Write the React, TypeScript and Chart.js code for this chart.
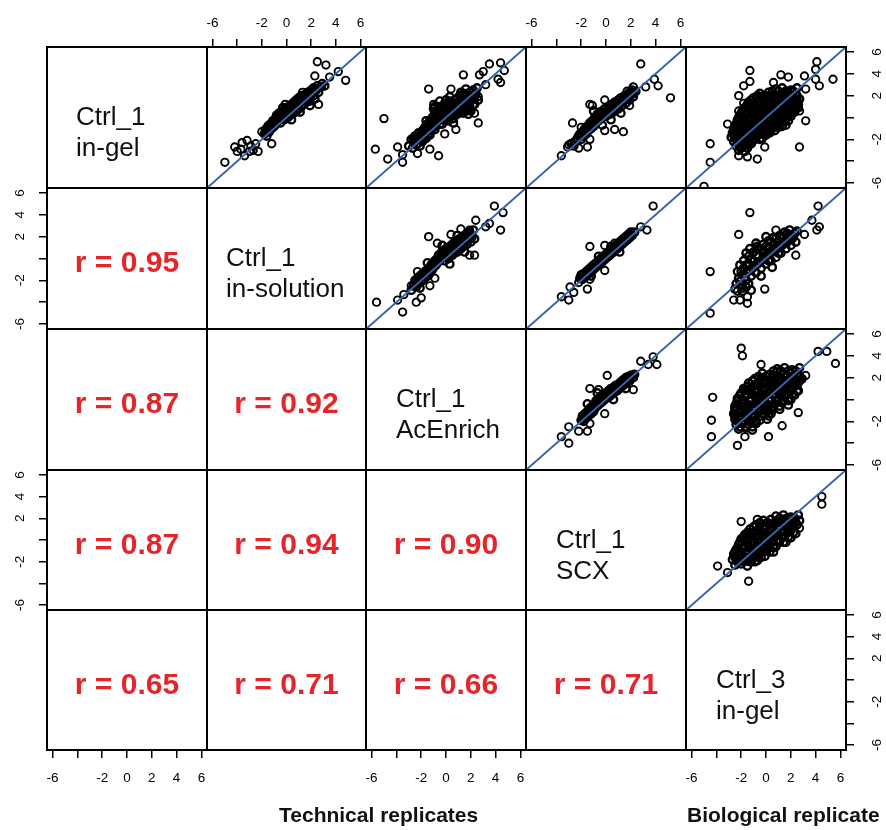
import React, { useEffect, useRef } from "react";
import { Chart, registerables } from "chart.js";
Chart.register(...registerables);

type Pt = [number, number];

// ---------- labels & values ----------
const varLine1 = ["Ctrl_1", "Ctrl_1", "Ctrl_1", "Ctrl_1", "Ctrl_3"];
const varLine2 = ["in-gel", "in-solution", "AcEnrich", "SCX", "in-gel"];
const rRow2 = ["0.95"];
const rRow3 = ["0.87", "0.92"];
const rRow4 = ["0.87", "0.94", "0.90"];
const rRow5 = ["0.65", "0.71", "0.66", "0.71"];
const tickValues = [-6, -4, -2, 0, 2, 4, 6];
const xTickLabels = ["-6", "", "-2", "0", "2", "4", "6"];
const yTickLabels = ["-6", "", "-2", "", "2", "4", "6"];
const axisLimit = 6.45;
const bottomTitles = ["Technical replicates", "Biological replicate"];

// ---------- scatter data ----------
const s12Out: Pt[] = [[2.5,5.1],[3.2,4.8],[4.2,4.2],[4.8,3.4],[2.3,3.8],[3.5,3.7],[-0.1,1.2],[2.6,1.2],[1.3,2.3],[-2.0,-1.3],[-1.2,-2.4],[-5.0,-4.1],[-3.6,-2.3],[-3.4,-3.5],[-4.0,-3.1],[-4.2,-2.7],[-3.2,-2.1],[-2.7,-3.0],[-2.9,-2.6],[-3.7,-2.9],[-2.5,-2.4],[-2.3,-3.1],[-3.0,-3.1]];
const s12Core: Pt[] = [[-1.8,-1.5],[-1.7,-1.1],[-1.6,-1.7],[-1.5,-0.8],[-1.4,-1.3],[-1.3,-0.6],[-1.2,-1.0],[-1.1,-0.3],[-1.0,-0.8],[-0.9,-0.1],[-0.9,-0.5],[-0.8,0.2],[-0.7,-0.3],[-0.6,0.4],[-0.5,0.0],[-0.5,-0.5],[-0.4,0.5],[-0.3,0.1],[-0.2,0.7],[-0.2,-0.2],[-0.1,0.3],[0.0,0.9],[0.1,0.5],[0.1,0.0],[0.2,1.0],[0.3,0.6],[0.3,0.2],[0.4,1.2],[0.5,0.8],[0.6,0.4],[0.6,1.4],[0.7,1.0],[0.8,0.6],[0.8,1.6],[0.9,1.2],[1.0,0.8],[1.0,1.8],[1.1,1.4],[1.2,1.0],[1.2,2.0],[1.3,1.6],[1.4,1.2],[1.5,2.1],[1.5,1.7],[1.6,1.4],[1.7,2.3],[1.8,1.9],[1.9,1.5],[2.0,2.5],[2.0,2.1],[2.2,2.7],[2.2,2.0],[2.4,2.5],[2.5,2.9],[2.6,2.3],[2.8,2.8],[2.9,3.1],[3.1,2.9],[-0.3,0.9],[0.4,-0.2],[1.1,0.5],[1.9,1.1],[2.3,1.7],
  [-1.7,-1.4],[-1.5,-1.0],[-1.3,-0.9],[-1.1,-0.6],[-0.9,-0.3],[-0.7,0.0],[-0.5,0.3],[-0.3,0.4],[-0.1,0.7],[0.1,0.8],[0.3,1.0],[0.5,1.2],[0.7,1.3],[0.9,1.5],[1.1,1.7],[1.3,1.9],[1.5,1.9],[1.7,2.1],[1.9,2.3],[2.1,2.4],[2.3,2.6],[0.2,0.4],[0.6,0.9],[1.0,1.2],[1.4,1.5],[1.8,2.0],[-0.4,-0.1],[-0.8,-0.5],[-1.2,-0.7]];

const s13Out: Pt[] = [[1.4,3.9],[3.5,4.9],[4.4,5.0],[4.7,4.3],[2.7,3.9],[3.0,4.2],[4.2,3.5],[4.4,3.2],[3.2,3.0],[2.6,1.9],[-1.4,2.6],[-5.0,-0.1],[-5.7,-2.9],[-4.7,-3.8],[-3.9,-2.7],[-3.5,-4.1],[-3.5,-3.4],[-2.3,-3.3],[-1.3,-2.9],[-0.6,-3.5],[-1.0,1.2],[0.4,2.6],[2.6,-0.5],[2.3,0.4],[0.8,-1.1],[-0.1,-1.5]];
const s13Core: Pt[] = [[-3.0,-2.6],[-2.8,-2.0],[-2.7,-2.8],[-2.6,-2.3],[-2.5,-1.7],[-2.4,-2.5],[-2.3,-2.0],[-2.2,-1.4],[-2.1,-2.6],[-2.0,-1.8],[-1.9,-1.2],[-1.9,-2.2],[-1.8,-1.5],[-1.7,-0.9],[-1.6,-1.9],[-1.6,-1.2],[-1.5,-0.6],[-1.4,-1.5],[-1.4,-0.9],[-1.3,-0.3],[-1.2,-1.2],[-1.2,-0.6],[-1.1,0.0],[-1.0,-0.9],[-1.0,-0.3],[-0.9,0.4],[-0.8,-0.6],[-0.8,0.0],[-0.7,0.7],[-0.6,-0.3],[-0.6,0.3],[-0.5,1.0],[-0.4,0.0],[-0.4,0.6],[-0.3,-0.6],[-0.2,0.3],[-0.2,0.9],[-0.1,1.3],[0.0,0.0],[0.0,0.6],[0.1,1.1],[0.2,-0.3],[0.2,0.4],[0.3,0.9],[0.4,1.5],[0.4,0.2],[0.5,0.7],[0.6,1.2],[0.6,-0.1],[0.7,0.5],[0.8,1.0],[0.8,1.7],[0.9,0.3],[1.0,0.8],[1.0,1.4],[1.1,2.0],[1.2,0.6],[1.2,1.1],[1.3,1.7],[1.4,0.4],[1.4,2.2],[1.5,0.9],[1.5,1.4],[1.6,2.0],[1.7,1.2],[1.7,0.7],[1.8,1.7],[1.9,2.3],[1.9,1.0],[2.0,1.5],[2.1,2.0],[2.2,2.5],[2.2,1.2],[2.3,1.8],[2.4,2.2],[2.5,2.7],[2.6,1.6],[2.0,0.6],[1.6,2.6],[0.3,1.9],[-0.5,1.5],[-1.0,0.8],
  [-2.6,-1.9],[-2.3,-2.4],[-2.0,-1.5],[-1.8,-2.0],[-1.5,-1.1],[-1.3,-1.6],[-1.1,-0.6],[-0.9,-1.1],[-0.7,-0.2],[-0.5,-0.6],[-0.3,0.3],[-0.1,-0.2],[0.1,0.7],[0.3,0.1],[0.5,1.1],[0.7,0.3],[0.9,1.3],[1.1,0.5],[1.3,1.3],[1.5,0.6],[1.7,1.5],[1.9,0.8],[2.1,1.7],[2.3,1.2],[0.0,1.6],[-0.9,1.0],[1.2,2.3],[-1.6,-0.3],[0.6,-0.5],[1.8,0.3]];

const s14Out: Pt[] = [[2.8,4.9],[3.9,3.5],[4.2,2.9],[5.2,1.8],[3.2,2.8],[2.2,2.8],[1.7,2.4],[1.9,1.1],[-1.3,1.2],[-1.1,1.1],[-0.1,1.6],[-2.7,-0.5],[-2.0,-0.9],[-0.1,-1.2],[0.7,-1.1],[1.4,-1.3],[-1.3,-2.0],[-2.2,-2.8],[-1.5,-2.7],[-3.0,-2.5],[-3.1,-2.7],[-3.6,-3.5]];
const s14Core: Pt[] = [[-2.3,-1.9],[-2.1,-1.5],[-2.0,-2.0],[-1.9,-1.3],[-1.8,-1.7],[-1.7,-1.0],[-1.6,-1.5],[-1.5,-0.8],[-1.4,-1.2],[-1.3,-0.5],[-1.2,-1.0],[-1.1,-0.3],[-1.0,-0.8],[-0.9,0.0],[-0.9,-0.5],[-0.8,-0.2],[-0.7,0.3],[-0.6,-0.3],[-0.5,0.1],[-0.5,0.5],[-0.4,-0.1],[-0.3,0.3],[-0.2,0.7],[-0.1,0.1],[0.0,0.5],[0.0,0.9],[0.1,0.2],[0.2,0.7],[0.3,1.1],[0.3,0.3],[0.4,0.8],[0.5,1.2],[0.6,0.5],[0.7,1.0],[0.7,1.4],[0.8,0.7],[0.9,1.2],[1.0,1.6],[1.0,0.8],[1.1,1.3],[1.2,1.8],[1.3,1.1],[1.4,1.5],[1.5,2.0],[1.6,1.3],[1.7,1.8],[1.8,2.2],[1.9,1.6],[2.0,2.1],[2.1,2.5],[2.2,1.9],[2.4,2.4],[0.4,-0.2],[-1.0,0.6],[-0.3,-0.7],[1.2,0.4],[-2.8,-2.4],[-2.6,-2.6],[-2.5,-2.2],
  [-2.2,-1.7],[-2.0,-1.7],[-1.8,-1.5],[-1.6,-1.2],[-1.4,-1.0],[-1.2,-0.7],[-1.0,-0.5],[-0.8,-0.3],[-0.6,0.0],[-0.4,0.2],[-0.2,0.4],[0.0,0.2],[0.2,0.4],[0.4,0.5],[0.6,0.8],[0.8,1.0],[1.0,1.2],[1.2,1.4],[1.4,1.7],[1.6,1.8],[1.8,1.9],[2.0,2.3],[2.2,2.2]];

const s15Out: Pt[] = [[4.1,5.1],[4.0,4.4],[5.4,3.5],[4.3,2.9],[4.0,3.5],[3.1,3.8],[1.2,3.9],[1.8,3.7],[-1.3,4.3],[-1.8,2.9],[-1.3,3.3],[0.6,3.2],[-2.2,2.0],[-1.8,1.3],[-2.2,0.6],[-3.1,-0.6],[-4.5,-2.4],[-4.5,-4.1],[-5.0,-6.3],[-2.2,-3.5],[-1.5,-3.6],[-0.7,-3.8],[-0.1,-2.7],[2.7,-2.7],[3.2,-0.3],[2.7,0.6],[3.2,2.6],[-0.8,1.9],[0.1,-1.3]];
const s15Core: Pt[] = [[0.8,2.6],[1.3,2.7],[2.0,2.5],[2.5,2.7],[-0.5,2.2],[0.2,2.3],[0.7,2.1],[1.3,2.2],[1.8,2.3],[2.4,2.1],[-1.0,1.8],[-0.4,1.9],[0.2,1.7],[0.7,1.8],[1.2,1.7],[1.7,1.9],[2.2,1.8],[2.7,1.7],[-1.4,1.4],[-0.8,1.3],[-0.2,1.5],[0.3,1.4],[0.8,1.3],[1.3,1.5],[1.8,1.4],[2.4,1.3],[-1.6,1.0],[-1.1,1.1],[-0.5,0.9],[0.0,1.0],[0.5,1.1],[1.0,0.9],[1.5,1.0],[2.0,1.1],[2.6,0.9],[-1.9,0.6],[-1.3,0.7],[-0.8,0.5],[-0.3,0.6],[0.2,0.7],[0.7,0.5],[1.2,0.6],[1.7,0.7],[2.3,0.5],[-2.1,0.2],[-1.5,0.3],[-1.0,0.1],[-0.5,0.2],[0.0,0.3],[0.5,0.1],[1.0,0.2],[1.5,0.3],[2.0,0.1],[-2.3,-0.2],[-1.7,-0.1],[-1.2,-0.3],[-0.7,-0.2],[-0.2,-0.1],[0.3,-0.3],[0.8,-0.2],[1.3,-0.1],[1.8,-0.3],[-2.4,-0.6],[-1.9,-0.5],[-1.4,-0.7],[-0.9,-0.6],[-0.4,-0.5],[0.1,-0.7],[0.6,-0.6],[1.1,-0.5],[1.6,-0.7],[-2.6,-1.0],[-2.0,-0.9],[-1.5,-1.1],[-1.0,-1.0],[-0.5,-0.9],[0.0,-1.1],[0.5,-1.0],[1.0,-0.9],[-2.7,-1.4],[-2.2,-1.3],[-1.7,-1.5],[-1.2,-1.4],[-0.7,-1.3],[-0.2,-1.5],[0.3,-1.4],[-2.8,-1.8],[-2.3,-1.7],[-1.8,-1.9],[-1.3,-1.8],[-0.8,-1.7],[-0.3,-1.9],[-2.6,-2.2],[-2.1,-2.3],[-1.6,-2.1],[-1.1,-2.2],[-2.4,-2.6],[-1.9,-2.7],[-1.4,-2.5],[-2.2,-3.0],[-1.7,-3.1],
  [0.5,2.4],[1.0,2.4],[1.6,2.4],[2.2,2.4],[-0.7,2.0],[-0.1,2.0],[0.4,2.0],[1.0,2.0],[1.5,2.0],[2.0,2.0],[2.5,2.0],[-1.2,1.6],[-0.6,1.6],[0.0,1.6],[0.5,1.6],[1.0,1.6],[1.5,1.6],[2.0,1.6],[2.5,1.6],[-1.5,1.2],[-1.0,1.2],[-0.5,1.2],[0.1,1.2],[0.6,1.2],[1.1,1.2],[1.6,1.2],[2.1,1.2],[2.6,1.2],[-1.8,0.8],[-1.3,0.8],[-0.8,0.8],[-0.2,0.8],[0.3,0.8],[0.8,0.8],[1.3,0.8],[1.8,0.8],[2.4,0.8],[-2.0,0.4],[-1.6,0.4],[-1.0,0.4],[-0.5,0.4],[0.0,0.4],[0.5,0.4],[1.0,0.4],[1.5,0.4],[2.1,0.4],[-2.2,0.0],[-1.8,0.0],[-1.3,0.0],[-0.8,0.0],[-0.3,0.0],[0.2,0.0],[0.7,0.0],[1.2,0.0],[1.7,0.0],[-2.3,-0.4],[-1.9,-0.4],[-1.4,-0.4],[-0.9,-0.4],[-0.4,-0.4],[0.1,-0.4],[0.6,-0.4],[1.1,-0.4],[1.5,-0.4],[-2.5,-0.8],[-2.1,-0.8],[-1.6,-0.8],[-1.1,-0.8],[-0.6,-0.8],[-0.1,-0.8],[0.4,-0.8],[0.9,-0.8],[1.3,-0.8],[-2.6,-1.2],[-2.2,-1.2],[-1.7,-1.2],[-1.2,-1.2],[-0.7,-1.2],[-0.2,-1.2],[0.3,-1.2],[0.7,-1.2],[-2.6,-1.6],[-2.1,-1.6],[-1.6,-1.6],[-1.1,-1.6],[-0.6,-1.6],[0.0,-1.6],[-2.4,-2.0],[-1.9,-2.0],[-1.4,-2.0],[-0.9,-2.0],[-0.5,-2.0],[-2.2,-2.4],[-1.7,-2.4],[-1.2,-2.4],[-2.0,-2.8],[-1.5,-2.8]];

const s23Out: Pt[] = [[3.9,4.8],[4.6,4.2],[2.4,3.5],[3.5,3.2],[3.2,2.9],[4.4,2.6],[1.2,2.7],[1.9,2.6],[-1.4,2.0],[-0.7,1.4],[0.4,2.2],[1.9,0.3],[2.3,0.3],[-2.3,-1.2],[-1.3,-2.5],[-2.0,-3.6],[-2.4,-4.0],[-3.5,-4.9],[-3.9,-3.8],[-5.6,-4.0],[-3.4,-3.3],[-2.8,-2.5],[-0.9,-1.8]];
const s23Core: Pt[] = [[-2.6,-2.5],[-2.5,-2.0],[-2.4,-2.6],[-2.3,-1.8],[-2.2,-2.3],[-2.1,-1.6],[-2.0,-2.1],[-1.9,-1.4],[-1.8,-1.9],[-1.7,-1.2],[-1.6,-1.7],[-1.5,-1.0],[-1.4,-1.5],[-1.3,-0.8],[-1.3,-1.2],[-1.2,-0.6],[-1.1,-1.0],[-1.0,-0.4],[-1.0,-0.8],[-0.9,-0.2],[-0.8,-0.6],[-0.7,0.0],[-0.7,-0.4],[-0.6,0.3],[-0.5,-0.2],[-0.4,0.4],[-0.4,0.0],[-0.3,0.7],[-0.2,0.2],[-0.1,0.6],[-0.1,-0.2],[0.0,0.9],[0.1,0.4],[0.2,1.0],[0.2,0.0],[0.3,0.6],[0.4,1.2],[0.5,0.3],[0.5,0.8],[0.6,1.4],[0.7,0.5],[0.8,1.0],[0.9,1.6],[0.9,0.6],[1.0,1.2],[1.1,1.8],[1.2,0.9],[1.2,1.4],[1.3,2.0],[1.4,1.1],[1.5,1.6],[1.6,2.2],[1.7,1.3],[1.8,1.8],[1.9,2.4],[2.0,1.5],[2.1,2.0],[2.2,2.6],[2.3,1.8],[-1.5,-0.4],[-0.3,1.2],[0.9,2.1],[0.3,-0.5],[1.5,0.6],[-2.1,-2.7],[-2.8,-2.9],
  [-2.4,-2.2],[-2.2,-1.9],[-2.0,-1.7],[-1.8,-1.5],[-1.6,-1.3],[-1.4,-1.1],[-1.2,-0.9],[-1.0,-0.6],[-0.8,-0.3],[-0.6,-0.1],[-0.4,0.2],[-0.2,0.5],[0.0,0.7],[0.2,0.8],[0.4,0.9],[0.6,1.1],[0.8,1.3],[1.0,1.5],[1.2,1.7],[1.4,1.8],[1.6,1.9],[1.8,2.1],[2.0,2.2],[-0.1,0.2],[0.7,0.8],[1.3,1.5]];

const s24Out: Pt[] = [[3.8,4.8],[2.8,2.9],[3.3,2.6],[-1.3,1.1],[-0.1,1.2],[0.7,1.4],[-0.1,-1.1],[-1.3,-1.9],[-1.5,-2.8],[-2.9,-2.6],[-2.6,-3.1],[-3.6,-3.5],[-3.0,-3.8],[-2.2,-2.2]];
const s24Core: Pt[] = [[-2.1,-1.8],[-2.0,-1.5],[-1.9,-1.9],[-1.8,-1.4],[-1.7,-1.7],[-1.6,-1.2],[-1.5,-1.5],[-1.4,-1.0],[-1.3,-1.3],[-1.2,-0.8],[-1.1,-1.1],[-1.0,-0.6],[-0.9,-0.9],[-0.8,-0.4],[-0.7,-0.7],[-0.6,-0.2],[-0.5,-0.5],[-0.4,0.0],[-0.3,-0.3],[-0.2,0.2],[-0.1,-0.1],[0.0,0.4],[0.1,0.1],[0.2,0.6],[0.3,0.3],[0.4,0.8],[0.5,0.5],[0.6,1.0],[0.7,0.7],[0.8,1.2],[0.9,0.9],[1.0,1.4],[1.1,1.1],[1.2,1.6],[1.3,1.3],[1.4,1.8],[1.5,1.5],[1.6,2.0],[1.7,1.7],[1.8,2.2],[1.9,1.9],[2.0,2.4],[2.1,2.1],[2.3,2.4],[-0.6,0.2],[0.4,1.1],[1.1,0.6],[-1.2,-1.6]];

const s25Out: Pt[] = [[4.2,4.8],[3.7,3.5],[4.3,2.9],[4.1,2.6],[3.1,2.2],[2.4,0.3],[-1.3,4.2],[-2.2,2.2],[0.8,2.6],[-4.5,-1.2],[-4.5,-5.0],[-0.1,-2.8],[-1.5,-3.5],[-1.5,-4.1],[-2.1,-3.8],[-2.6,-3.8],[-2.3,-3.0]];
const s25Core: Pt[] = [[-2.4,-2.3],[-2.2,-1.8],[-2.3,-1.2],[-2.1,-0.6],[-2.0,-2.4],[-1.9,-1.5],[-1.8,-0.9],[-1.8,-0.2],[-1.6,-2.0],[-1.5,-1.2],[-1.4,-0.5],[-1.4,0.2],[-1.2,-1.6],[-1.1,-0.9],[-1.0,-0.2],[-1.0,0.6],[-0.8,-1.3],[-0.7,-0.5],[-0.6,0.2],[-0.6,0.9],[-0.8,1.4],[-0.4,-0.9],[-0.3,-0.1],[-0.2,0.6],[-0.2,1.3],[0.0,-0.5],[0.1,0.3],[0.2,1.0],[0.2,1.6],[0.4,-0.2],[0.5,0.6],[0.6,1.3],[0.6,1.9],[0.8,0.1],[0.9,0.9],[1.0,1.6],[1.1,2.1],[1.2,0.5],[1.3,1.2],[1.4,1.9],[1.5,2.4],[1.6,0.9],[1.7,1.5],[1.8,2.1],[1.9,2.6],[2.0,1.2],[2.1,1.8],[2.3,2.3],[2.5,2.5],[2.4,1.5],[-1.6,-2.6],[-1.2,-2.9],[-1.9,-3.0],[-2.5,-2.8],[-0.4,-1.6],[0.5,-0.8],[-1.3,0.9],[0.0,2.0],
  [-2.1,-2.1],[-2.0,-1.2],[-1.7,-1.7],[-1.6,-0.6],[-1.3,-1.1],[-1.2,-0.1],[-0.9,-0.7],[-0.8,0.3],[-0.5,-0.3],[-0.4,0.8],[-0.1,0.1],[0.0,1.1],[0.3,0.6],[0.4,1.5],[0.7,0.8],[0.8,1.8],[1.1,1.2],[1.2,2.0],[1.5,1.6],[1.7,2.3],[1.9,1.7],[2.2,2.0],[-1.9,-2.7],[-1.4,-2.3],[0.2,-0.2],[1.0,0.5],[-0.7,1.1],[-1.6,0.5]];

const s34Out: Pt[] = [[2.8,3.5],[3.8,3.9],[3.4,3.2],[4.1,3.2],[0.1,2.2],[-1.3,1.0],[-0.6,0.9],[2.2,0.9],[-0.1,-1.3],[-1.3,-2.2],[-1.5,-2.9],[-2.2,-2.9],[-3.6,-3.4],[-3.0,-4.0],[-3.0,-2.5]];
const s34Core: Pt[] = [[-2.0,-1.9],[-1.9,-1.5],[-1.8,-2.0],[-1.7,-1.3],[-1.6,-1.7],[-1.5,-1.1],[-1.4,-1.5],[-1.3,-0.8],[-1.2,-1.3],[-1.1,-0.6],[-1.0,-1.1],[-0.9,-0.4],[-0.9,-0.8],[-0.8,-0.1],[-0.7,-0.6],[-0.6,0.1],[-0.5,-0.4],[-0.4,0.3],[-0.3,-0.2],[-0.2,0.5],[-0.1,0.0],[0.0,0.6],[0.1,0.2],[0.2,0.8],[0.3,0.3],[0.4,1.0],[0.5,0.5],[0.6,1.1],[0.7,0.7],[0.8,1.3],[0.9,0.8],[1.0,1.4],[1.1,1.0],[1.2,1.6],[1.3,1.2],[1.4,1.8],[1.5,1.4],[1.6,2.0],[1.7,1.6],[1.8,2.1],[1.9,1.7],[2.0,2.2],[2.2,2.0],[2.3,2.3],[-0.7,0.6],[0.6,0.0],[1.6,1.0],[-1.5,-0.4],
  [-1.9,-1.8],[-1.7,-1.6],[-1.5,-1.3],[-1.3,-1.1],[-1.1,-0.9],[-0.9,-0.6],[-0.7,-0.4],[-0.5,-0.1],[-0.3,0.1],[-0.1,0.3],[0.1,0.5],[0.3,0.7],[0.5,0.9],[0.7,1.0],[0.9,1.2],[1.1,1.4],[1.3,1.5],[1.5,1.7],[1.7,1.9],[1.9,2.0],[2.1,2.2]];

const s35Out: Pt[] = [[-2.0,4.7],[-1.9,4.0],[4.2,4.4],[4.9,4.4],[5.6,3.3],[3.2,2.2],[-4.4,-1.9],[-4.4,-3.4],[-4.3,0.2],[-1.7,-3.4],[0.2,-3.4],[-2.3,-4.2],[2.6,-1.2],[1.3,-2.4],[-0.4,3.2]];
const s35Core: Pt[] = [[0.9,2.8],[1.5,2.9],[2.1,2.7],[2.7,2.9],[-0.3,2.4],[0.3,2.3],[0.9,2.5],[1.4,2.3],[2.0,2.4],[2.6,2.2],[-0.9,1.9],[-0.3,2.0],[0.3,1.8],[0.8,2.0],[1.3,1.8],[1.9,1.9],[2.4,1.7],[2.9,1.9],[-1.4,1.5],[-0.8,1.4],[-0.2,1.6],[0.3,1.4],[0.8,1.5],[1.4,1.3],[1.9,1.5],[2.5,1.3],[-1.8,1.0],[-1.2,1.1],[-0.6,0.9],[-0.1,1.0],[0.5,1.1],[1.0,0.9],[1.5,1.0],[2.1,1.1],[2.6,0.8],[-2.0,0.6],[-1.5,0.5],[-0.9,0.7],[-0.4,0.5],[0.2,0.6],[0.7,0.5],[1.2,0.6],[1.8,0.5],[2.3,0.4],[-2.3,0.1],[-1.7,0.2],[-1.2,0.0],[-0.6,0.1],[-0.1,0.2],[0.4,0.0],[1.0,0.1],[1.5,0.2],[2.0,0.0],[-2.4,-0.4],[-1.9,-0.3],[-1.4,-0.5],[-0.8,-0.4],[-0.3,-0.3],[0.2,-0.5],[0.7,-0.4],[1.3,-0.3],[1.8,-0.5],[-2.5,-0.8],[-2.0,-0.9],[-1.5,-0.8],[-1.0,-0.9],[-0.5,-0.8],[0.0,-0.9],[0.6,-0.8],[1.1,-0.9],[-2.6,-1.3],[-2.1,-1.2],[-1.6,-1.4],[-1.1,-1.3],[-0.6,-1.2],[-0.1,-1.4],[0.4,-1.3],[-2.5,-1.8],[-2.0,-1.7],[-1.5,-1.8],[-1.0,-1.7],[-0.5,-1.9],[0.1,-1.8],[-2.4,-2.3],[-1.9,-2.2],[-1.4,-2.3],[-0.8,-2.2],[-2.2,-2.7],[-1.6,-2.6],[-1.1,-2.8],
  [0.6,2.6],[1.2,2.6],[1.8,2.6],[2.4,2.6],[-0.6,2.1],[0.0,2.1],[0.6,2.1],[1.1,2.1],[1.7,2.1],[2.2,2.1],[2.7,2.1],[-1.1,1.7],[-0.5,1.7],[0.0,1.7],[0.6,1.7],[1.1,1.7],[1.6,1.7],[2.2,1.7],[2.7,1.7],[-1.5,1.2],[-1.0,1.2],[-0.5,1.2],[0.1,1.2],[0.6,1.2],[1.1,1.2],[1.7,1.2],[2.3,1.2],[-1.8,0.8],[-1.2,0.8],[-0.7,0.8],[-0.1,0.8],[0.4,0.8],[0.9,0.8],[1.4,0.8],[2.0,0.8],[2.5,0.8],[-2.1,0.4],[-1.5,0.4],[-1.0,0.4],[-0.5,0.4],[0.0,0.4],[0.6,0.4],[1.1,0.4],[1.6,0.4],[2.1,0.4],[-2.3,-0.1],[-1.8,-0.1],[-1.3,-0.1],[-0.8,-0.1],[-0.3,-0.1],[0.2,-0.1],[0.8,-0.1],[1.3,-0.1],[1.8,-0.1],[-2.5,-0.6],[-2.0,-0.6],[-1.5,-0.6],[-1.0,-0.6],[-0.4,-0.6],[0.1,-0.6],[0.6,-0.6],[1.1,-0.6],[-2.5,-1.0],[-2.0,-1.0],[-1.5,-1.0],[-1.0,-1.0],[-0.5,-1.0],[0.0,-1.0],[0.5,-1.0],[-2.5,-1.5],[-2.0,-1.5],[-1.5,-1.5],[-1.0,-1.5],[-0.4,-1.5],[0.2,-1.5],[-2.3,-2.0],[-1.8,-2.0],[-1.3,-2.0],[-0.8,-2.0],[-2.1,-2.5],[-1.6,-2.5],[-1.1,-2.5]];

const s45Out: Pt[] = [[4.5,4.0],[4.5,3.3],[-3.9,-2.4],[-3.1,-3.0],[-1.4,-3.8],[-2.0,1.7],[2.7,1.1],[-0.7,1.9]];
const s45Core: Pt[] = [[0.8,2.2],[1.4,2.3],[2.0,2.1],[2.6,2.3],[-0.2,1.8],[0.4,1.9],[1.0,1.7],[1.5,1.9],[2.1,1.7],[2.7,1.8],[-0.8,1.4],[-0.2,1.3],[0.3,1.5],[0.9,1.3],[1.4,1.4],[2.0,1.3],[2.5,1.4],[-1.3,1.0],[-0.7,0.9],[-0.2,1.0],[0.4,0.9],[0.9,1.0],[1.5,0.8],[2.0,0.9],[2.4,0.6],[-1.7,0.5],[-1.2,0.6],[-0.6,0.4],[-0.1,0.5],[0.4,0.4],[1.0,0.5],[1.5,0.3],[2.0,0.2],[-2.0,0.1],[-1.5,0.0],[-1.0,0.1],[-0.5,-0.1],[0.1,0.0],[0.6,0.1],[1.1,-0.1],[1.6,-0.2],[-2.2,-0.4],[-1.7,-0.5],[-1.2,-0.3],[-0.7,-0.5],[-0.2,-0.4],[0.3,-0.5],[0.8,-0.6],[-2.4,-0.9],[-1.9,-0.8],[-1.4,-1.0],[-0.9,-0.9],[-0.4,-1.0],[0.1,-0.9],[0.6,-1.1],[-2.6,-1.3],[-2.1,-1.4],[-1.6,-1.3],[-1.1,-1.5],[-0.6,-1.4],[-0.1,-1.5],[-2.7,-1.8],[-2.2,-1.9],[-1.7,-1.8],[-1.2,-2.0],[-0.7,-1.9],[-2.5,-2.3],[-2.0,-2.2],[-1.5,-2.4],
  [1.1,2.0],[1.7,2.0],[2.3,2.0],[-0.5,1.6],[0.1,1.6],[0.7,1.6],[1.3,1.6],[1.8,1.6],[2.4,1.6],[-1.0,1.2],[-0.5,1.2],[0.0,1.2],[0.6,1.2],[1.1,1.2],[1.7,1.2],[2.2,1.2],[-1.5,0.7],[-1.0,0.7],[-0.4,0.7],[0.2,0.7],[0.7,0.7],[1.2,0.7],[1.8,0.7],[2.2,0.7],[-1.8,0.3],[-1.3,0.3],[-0.8,0.3],[-0.3,0.3],[0.2,0.3],[0.7,0.3],[1.3,0.3],[1.8,0.3],[-2.1,-0.2],[-1.6,-0.2],[-1.0,-0.2],[-0.5,-0.2],[0.0,-0.2],[0.5,-0.2],[1.0,-0.2],[1.4,-0.2],[-2.3,-0.7],[-1.8,-0.7],[-1.3,-0.7],[-0.8,-0.7],[-0.3,-0.7],[0.2,-0.7],[0.6,-0.7],[-2.5,-1.1],[-2.0,-1.1],[-1.6,-1.1],[-1.1,-1.1],[-0.6,-1.1],[-0.2,-1.1],[0.3,-1.1],[-2.5,-1.6],[-1.9,-1.6],[-1.4,-1.6],[-0.9,-1.6],[-0.4,-1.6],[-2.3,-2.0],[-1.8,-2.0],[-1.3,-2.0],[-0.9,-2.0]];

// ---------- layout ----------
const COLS = [47, 207, 366, 526, 686, 846];
const ROWS = [47, 188, 329, 470, 610, 750];
const NAME_DX = [29, 19, 30, 30, 30];
const M = 30;
const AXW = 44;
const TICK_FONT = "'Liberation Sans', Arial, sans-serif";

const scatterFor = (r: number, c: number): [Pt[], Pt[]] | null => {
  const map: Record<string, [Pt[], Pt[]]> = {
    "01": [s12Out, s12Core],
    "02": [s13Out, s13Core],
    "03": [s14Out, s14Core],
    "04": [s15Out, s15Core],
    "12": [s23Out, s23Core],
    "13": [s24Out, s24Core],
    "14": [s25Out, s25Core],
    "23": [s34Out, s34Core],
    "24": [s35Out, s35Core],
    "34": [s45Out, s45Core],
  };
  return map[`${r}${c}`] || null;
};

const rFor = (r: number, c: number): string | null => {
  const rows = [null, rRow2, rRow3, rRow4, rRow5];
  const row = rows[r];
  return row && c < row.length ? row[c] : null;
};

const framePlugin = {
  id: "frame",
  afterDraw(chart: any) {
    const { ctx, chartArea } = chart;
    ctx.save();
    ctx.strokeStyle = "#000";
    ctx.lineWidth = 2;
    ctx.strokeRect(chartArea.left, chartArea.top, chartArea.right - chartArea.left, chartArea.bottom - chartArea.top);
    ctx.restore();
  },
};

const ringSet = (pts: Pt[], width: number) => ({
  type: "scatter",
  data: pts.map(([x, y]) => ({ x, y })),
  pointRadius: 3.7,
  borderWidth: width,
  pointBorderWidth: width,
  borderColor: "#000",
  pointBorderColor: "#000",
  backgroundColor: "rgba(0,0,0,0)",
  pointBackgroundColor: "rgba(0,0,0,0)",
  pointStyle: "circle",
});

function Panel({ r, c }: { r: number; c: number }) {
  const ref = useRef<HTMLCanvasElement>(null);
  const hasTop = r === 0 && c % 2 === 1;
  const hasBottom = r === 4 && c % 2 === 0;
  const hasLeft = c === 0 && r % 2 === 1;
  const hasRight = c === 4 && r % 2 === 0;
  const showX = hasTop || hasBottom;
  const showY = hasLeft || hasRight;
  const pw = COLS[c + 1] - COLS[c];
  const ph = ROWS[r + 1] - ROWS[r];
  const padL = M + (hasLeft ? AXW : 0);
  const padT = M + (hasTop ? AXW : 0);
  const padR = M + (hasRight ? AXW : 0);
  const padB = M + (hasBottom ? AXW : 0);
  const W = pw + padL + padR;
  const H = ph + padT + padB;

  useEffect(() => {
    const sets = scatterFor(r, c);
    const datasets: any[] = [];
    if (sets) {
      datasets.push({
        type: "line",
        data: [{ x: -axisLimit, y: -axisLimit }, { x: axisLimit, y: axisLimit }],
        borderColor: "#3a63ae",
        borderWidth: 2,
        pointRadius: 0,
        fill: false,
      });
      datasets.push(ringSet(sets[0], 1.9));
      datasets.push(ringSet(sets[1], 2.4));
    }
    const grid = { display: true, drawOnChartArea: false, drawTicks: true, tickLength: 8, color: "#000", lineWidth: 1.5 };
    const setTicks = (s: any) => { s.ticks = tickValues.map((value) => ({ value })); };
    const chart = new Chart(ref.current as HTMLCanvasElement, {
      type: "scatter",
      data: { datasets },
      options: {
        responsive: false,
        animation: false,
        events: [],
        layout: { padding: { left: M, right: M, top: M, bottom: M } },
        plugins: { legend: { display: false }, tooltip: { enabled: false } },
        scales: {
          x: {
            type: "linear", min: -axisLimit, max: axisLimit,
            position: hasTop ? "top" : "bottom",
            display: showX,
            afterBuildTicks: setTicks,
            afterFit: (s: any) => { s.height = showX ? AXW : 0; },
            grid, border: { display: false },
            ticks: {
              autoSkip: false, minRotation: 0, maxRotation: 0,
              padding: hasTop ? 8 : 12, color: "#000",
              font: { family: TICK_FONT, size: 13.5 },
              callback: (_v: any, i: number) => xTickLabels[i],
            },
          },
          y: {
            type: "linear", min: -axisLimit, max: axisLimit,
            position: hasLeft ? "left" : "right",
            display: showY,
            afterBuildTicks: setTicks,
            afterFit: (s: any) => { s.width = showY ? AXW : 0; },
            grid, border: { display: false },
            ticks: {
              autoSkip: false, minRotation: 90, maxRotation: 90, crossAlign: "center",
              padding: hasLeft ? 13 : 17, color: "#000",
              font: { family: TICK_FONT, size: 13.5 },
              callback: (_v: any, i: number) => yTickLabels[i],
            },
          },
        },
      } as any,
      plugins: [framePlugin],
    });
    return () => chart.destroy();
  }, []);

  return (
    <canvas
      ref={ref}
      width={W}
      height={H}
      style={{ position: "absolute", left: COLS[c] - padL, top: ROWS[r] - padT, width: W, height: H }}
    />
  );
}

export default function App() {
  const panels: JSX.Element[] = [];
  const texts: JSX.Element[] = [];
  for (let r = 0; r < 5; r++) {
    for (let c = 0; c < 5; c++) {
      panels.push(<Panel key={`p${r}${c}`} r={r} c={c} />);
      if (r === c) {
        texts.push(
          <div key={`n${r}`} style={{ position: "absolute", left: COLS[c] + NAME_DX[c], top: ROWS[r] + 54, font: "26px 'Liberation Sans', Arial, sans-serif", lineHeight: "31px", color: "#111", whiteSpace: "nowrap" }}>
            {varLine1[r]}<br />{varLine2[r]}
          </div>
        );
      }
      const rv = rFor(r, c);
      if (rv) {
        texts.push(
          <div key={`r${r}${c}`} style={{ position: "absolute", left: COLS[c], width: COLS[c + 1] - COLS[c], top: ROWS[r] + 58, textAlign: "center", font: "bold 30px 'Liberation Sans', Arial, sans-serif", lineHeight: "32px", color: "#e4262b", whiteSpace: "nowrap" }}>
            {`r = ${rv}`}
          </div>
        );
      }
    }
  }
  return (
    <div style={{ position: "absolute", left: 0, top: 0, width: 886, height: 830, background: "#fff", overflow: "hidden" }}>
      {panels}
      {texts}
      <div style={{ position: "absolute", left: 279, top: 804, font: "bold 21px 'Liberation Sans', Arial, sans-serif", lineHeight: "22px", color: "#111", whiteSpace: "nowrap" }}>{bottomTitles[0]}</div>
      <div style={{ position: "absolute", left: 687, top: 804, font: "bold 21px 'Liberation Sans', Arial, sans-serif", lineHeight: "22px", color: "#111", whiteSpace: "nowrap" }}>{bottomTitles[1]}</div>
    </div>
  );
}
